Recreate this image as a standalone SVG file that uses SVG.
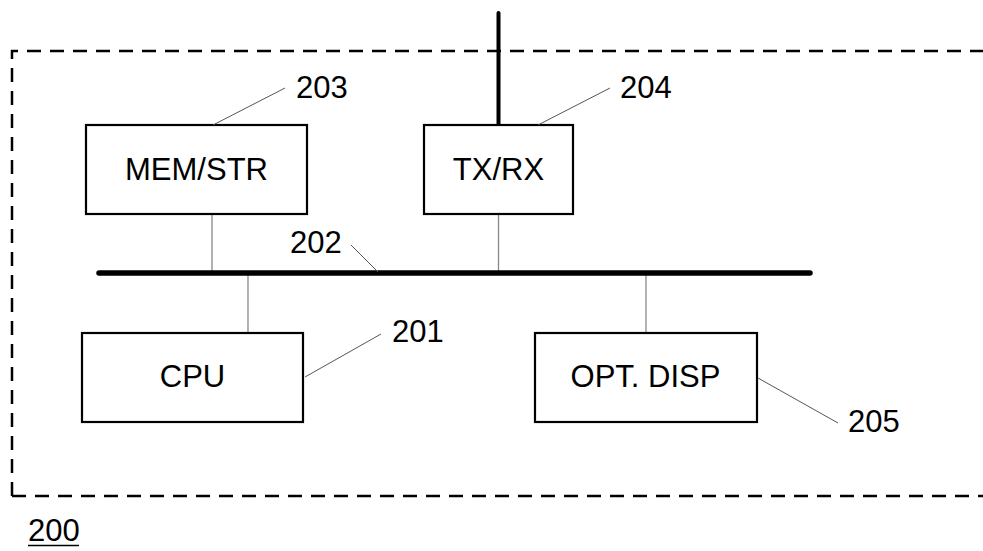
<svg xmlns="http://www.w3.org/2000/svg" width="983" height="551" viewBox="0 0 983 551">
<style>
.box{fill:#fff;stroke:#000;stroke-width:2.2}
.lbl{font-family:"Liberation Sans",Arial,sans-serif;font-size:31px;fill:#000;text-anchor:middle}
.num{font-family:"Liberation Sans",Arial,sans-serif;font-size:31px;fill:#000}
.lead{stroke:#555;stroke-width:1;fill:none}
.conn{stroke:#888;stroke-width:1.3;fill:none}
</style>
<rect width="983" height="551" fill="#fff"/>
<g id="frame-200">
<path d="M12 496 V51 H990 M12 496 H990" fill="none" stroke="#000" stroke-width="2.5" stroke-dasharray="14 9"/>
<text class="num" x="28" y="541">200</text>
<line x1="28" y1="545.5" x2="79" y2="545.5" stroke="#000" stroke-width="1.5"/>
</g>
<g id="connectors">
<line class="conn" x1="212" y1="214" x2="212" y2="273"/>
<line class="conn" x1="498.5" y1="214" x2="498.5" y2="273"/>
<line class="conn" x1="248" y1="273" x2="248" y2="333"/>
<line class="conn" x1="646" y1="273" x2="646" y2="333"/>
<line x1="498.5" y1="13" x2="498.5" y2="125" stroke="#000" stroke-width="4" stroke-linecap="round"/>
</g>
<g id="bus-202">
<line x1="99" y1="273" x2="810" y2="273" stroke="#000" stroke-width="5.5" stroke-linecap="round"/>
<line class="lead" x1="351" y1="245" x2="378" y2="272"/>
<text class="num" x="290" y="253">202</text>
</g>
<g id="mem-203">
<rect class="box" x="86" y="125" width="221" height="89"/>
<text class="lbl" x="196.5" y="180">MEM/STR</text>
<line class="lead" x1="213" y1="125" x2="285" y2="88"/>
<text class="num" x="296" y="98">203</text>
</g>
<g id="txrx-204">
<rect class="box" x="424" y="125" width="149" height="89"/>
<text class="lbl" x="498.5" y="180">TX/RX</text>
<line class="lead" x1="538" y1="125" x2="610" y2="88"/>
<text class="num" x="620" y="98">204</text>
</g>
<g id="cpu-201">
<rect class="box" x="82" y="333" width="221" height="89"/>
<text class="lbl" x="192.5" y="387">CPU</text>
<line class="lead" x1="305" y1="377" x2="381" y2="334"/>
<text class="num" x="392" y="342">201</text>
</g>
<g id="disp-205">
<rect class="box" x="535" y="333" width="222" height="89"/>
<text class="lbl" x="645.5" y="387">OPT. DISP</text>
<line class="lead" x1="758" y1="378" x2="838" y2="423"/>
<text class="num" x="848" y="432">205</text>
</g>
</svg>
